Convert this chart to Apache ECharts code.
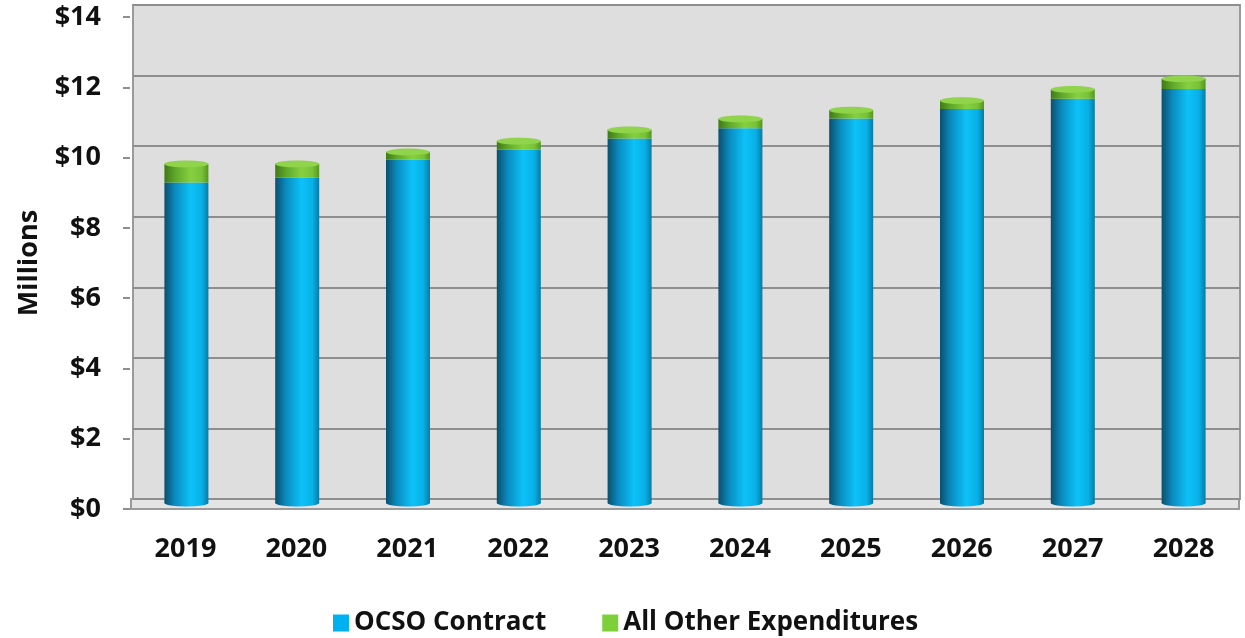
<!DOCTYPE html>
<html>
<head>
<meta charset="utf-8">
<script src="https://cdn.jsdelivr.net/npm/echarts@6/dist/echarts.min.js"></script>
<style>
  html, body { margin: 0; padding: 0; background: #fff; }
  #chart { width: 1245px; height: 638px; }
</style>
</head>
<body>
<div id="chart"></div>
<script>
// data (millions)
const years = ['2019', '2020', '2021', '2022', '2023', '2024', '2025', '2026', '2027', '2028']
const ocsoContract = [9.10, 9.24, 9.75, 10.04, 10.35, 10.64, 10.92, 11.19, 11.48, 11.76]
const otherExpenditures = [0.53, 0.39, 0.22, 0.24, 0.25, 0.27, 0.24, 0.24, 0.27, 0.29]
const yTicks = [0, 2, 4, 6, 8, 10, 12, 14]

const totals = ocsoContract.map((v, i) => +(v + otherExpenditures[i]).toFixed(2))
const font = 'Open Sans'

const blueGrad = new echarts.graphic.LinearGradient(0, 0, 1, 0, [
  { offset: 0, color: '#0b4f6e' },
  { offset: 0.25, color: '#0a8cc0' },
  { offset: 0.6, color: '#0cc2f8' },
  { offset: 0.85, color: '#08b0e6' },
  { offset: 1, color: '#077ba6' },
])
const greenGrad = new echarts.graphic.LinearGradient(0, 0, 1, 0, [
  { offset: 0, color: '#3f7a16' },
  { offset: 0.25, color: '#5fa82a' },
  { offset: 0.6, color: '#86d040' },
  { offset: 0.85, color: '#78c238' },
  { offset: 1, color: '#54961f' },
])

const chart = echarts.init(document.getElementById('chart'))
chart.setOption({
  animation: false,
  textStyle: { fontFamily: font },
  grid: [
    // back wall
    { left: 133, right: 5, top: 5, bottom: 139, show: true, backgroundColor: '#dedede', borderColor: '#9a9a9a', borderWidth: 2 },
    // floor
    { left: 131, right: 6, top: 499, bottom: 129, show: true, backgroundColor: '#e4e4e4', borderColor: '#9a9a9a', borderWidth: 2 },
    // front axis
    { left: 130, right: 6, top: 17, bottom: 129 },
    // bars
    { left: 131, right: 6, top: 10, bottom: 135 },
  ],
  legend: {
    data: [
      { name: 'OCSO Contract', itemStyle: { color: '#00b0f0' } },
      { name: 'All Other Expenditures', itemStyle: { color: '#7ed03a' } },
    ],
    left: 328,
    top: 605,
    itemWidth: 16,
    itemHeight: 17,
    itemGap: 56,
    icon: 'rect',
    textStyle: { fontFamily: font, fontWeight: 'bold', fontSize: 26, color: '#111' },
  },
  xAxis: [
    { gridIndex: 0, type: 'category', data: years, show: false },
    { gridIndex: 1, type: 'category', data: years, show: false },
    {
      gridIndex: 2, type: 'category', data: years,
      axisLine: { lineStyle: { color: '#9a9a9a', width: 2 } },
      axisTick: { length: 10, lineStyle: { color: '#9a9a9a', width: 2 } },
      axisLabel: { margin: 27, fontFamily: font, fontWeight: 'bold', fontSize: 27, color: '#111' },
    },
    { gridIndex: 3, type: 'category', data: years, show: false },
  ],
  yAxis: [
    {
      gridIndex: 0, type: 'value', min: 0, max: 14, interval: 2,
      axisLine: { show: false }, axisTick: { show: false }, axisLabel: { show: false },
      splitLine: { lineStyle: { color: '#8e8e8e', width: 2 } },
    },
    { gridIndex: 1, type: 'value', show: false, splitLine: { show: false } },
    {
      gridIndex: 2, type: 'value', min: 0, max: 14, interval: 2,
      name: 'Millions', nameLocation: 'middle', nameRotate: 90, nameGap: 87,
      nameTextStyle: { fontFamily: font, fontWeight: 'bold', fontSize: 27, color: '#111' },
      axisLine: { show: false },
      axisTick: { show: true, length: 7, lineStyle: { color: '#8e8e8e', width: 2 } },
      axisLabel: {
        margin: 29, fontFamily: font, fontWeight: 'bold', fontSize: 27, color: '#111',
        formatter: v => (yTicks.includes(v) ? '$' + v : ''),
      },
      splitLine: { show: false },
    },
    { gridIndex: 3, type: 'value', min: 0, max: 14, show: false, splitLine: { show: false } },
  ],
  series: [
    {
      name: 'OCSO Contract', type: 'bar', stack: 'total',
      xAxisIndex: 3, yAxisIndex: 3, barWidth: 44,
      itemStyle: { color: blueGrad },
      data: ocsoContract,
      z: 3,
    },
    {
      name: 'All Other Expenditures', type: 'bar', stack: 'total',
      xAxisIndex: 3, yAxisIndex: 3, barWidth: 44,
      itemStyle: { color: greenGrad },
      data: otherExpenditures,
      z: 3,
    },
    {
      // cylinder bottom
      type: 'pictorialBar', xAxisIndex: 3, yAxisIndex: 3,
      symbol: 'circle', symbolSize: [44, 7], symbolPosition: 'start', symbolOffset: [0, '50%'],
      itemStyle: { color: blueGrad },
      data: ocsoContract, z: 2, silent: true,
    },
    {
      // cylinder top cap
      type: 'pictorialBar', xAxisIndex: 3, yAxisIndex: 3,
      symbol: 'circle', symbolSize: [44, 7], symbolPosition: 'end', symbolOffset: [0, '-50%'],
      itemStyle: { color: '#8fd44a', borderColor: '#5f9f2a', borderWidth: 1 },
      data: totals, z: 4, silent: true,
    },
  ],
})
</script>
</body>
</html>
